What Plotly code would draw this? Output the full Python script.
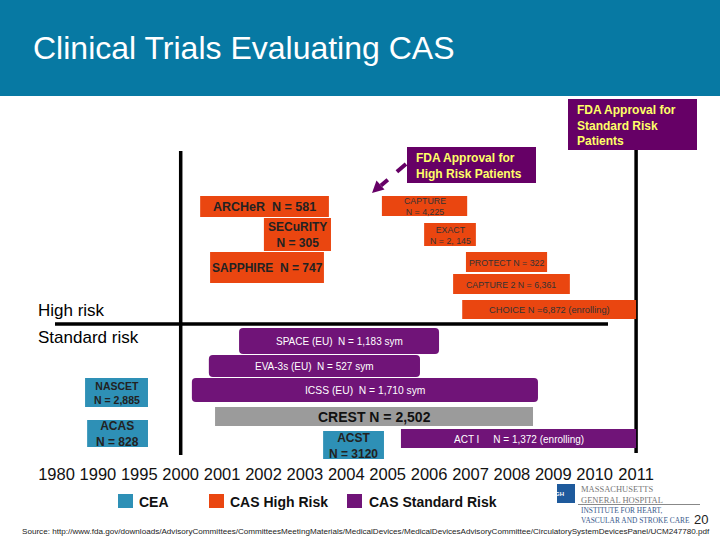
import plotly.graph_objects as go

# ---------------- data ----------------
years = ["1980", "1990", "1995", "2000", "2001", "2002", "2003", "2004",
         "2005", "2006", "2007", "2008", "2009", "2010", "2011"]

trials = ["ARCHeR", "SECuRITY", "SAPPHIRE", "CAPTURE", "EXACT", "PROTECT",
          "CAPTURE 2", "CHOICE", "SPACE (EU)", "EVA-3s (EU)", "ICSS (EU)",
          "CREST", "ACST", "ACT I", "NASCET", "ACAS"]
groups = ["CAS High Risk", "CAS High Risk", "CAS High Risk", "CAS High Risk",
          "CAS High Risk", "CAS High Risk", "CAS High Risk", "CAS High Risk",
          "CAS Standard Risk", "CAS Standard Risk", "CAS Standard Risk",
          "CREST", "CEA", "CAS Standard Risk", "CEA", "CEA"]
n_patients = ["581", "305", "747", "4,225", "2, 145", "322", "6,361", "6,872",
              "1,183", "527", "1,710", "2,502", "3120", "1,372", "2,885", "828"]
# timeline slot positions (0 = 1980 ... 14 = 2011)
start_pos = [3.47, 5.01, 3.71, 7.86, 8.88, 9.89, 9.58, 9.80,
             4.41, 3.68, 3.27, 3.83, 6.44, 8.32, 0.69, 0.74]
end_pos = [6.58, 6.63, 6.46, 9.92, 10.13, 11.85, 12.40, 14.0,
           9.24, 8.78, 11.63, 11.51, 7.91, 14.0, 2.21, 2.21]
labels = ["ARCHeR\u00a0 N = 581", "SECuRITY<br>N = 305", "SAPPHIRE\u00a0 N = 747",
          "CAPTURE<br>N = 4,225", "EXACT<br>N = 2, 145", "PROTECT N = 322",
          "CAPTURE 2 N = 6,361", "CHOICE N =6,872 (enrolling)",
          "SPACE (EU)\u00a0 N = 1,183 sym", "EVA-3s (EU)\u00a0 N = 527 sym",
          "ICSS (EU)\u00a0 N = 1,710 sym", "CREST N = 2,502", "ACST<br>N = 3120",
          "ACT I \u00a0\u00a0\u00a0 N = 1,372 (enrolling)", "NASCET<br>N = 2,885",
          "ACAS<br>N = 828"]

legend_items = ["CEA", "CAS High Risk", "CAS Standard Risk"]
divider_years = [3, 14]  # vertical lines at 2000 and 2011

# ---------------- layout / style ----------------
W, H = 720, 540
X0PX, DX = 56.5, 41.4           # pixel of slot 0 and pixel per slot


def px2x(px):
    return (px - X0PX) / DX


colors = {"CEA": "#2E90B6", "CAS High Risk": "#EA4610",
          "CAS Standard Risk": "#701478", "CREST": "#9B9B9B"}
FDA = "#660066"
ARIAL = "Arial, Liberation Sans, sans-serif"
SERIF = "Liberation Serif, DejaVu Serif, serif"

# row layout: (top px, bottom px, font size, bold, text color, rounded)
rows = [
    (196, 217, 12.5, True, "#222222", False),
    (218, 251, 12, True, "#222222", False),
    (252, 283, 12, True, "#222222", False),
    (196, 216, 8.8, False, "#333333", False),
    (223, 246, 8.8, False, "#333333", False),
    (252, 272, 8.8, False, "#333333", False),
    (274, 294, 8.8, False, "#333333", False),
    (300, 319, 9.3, False, "#333333", False),
    (328, 354, 10, False, "white", True),
    (355, 377, 10, False, "white", True),
    (378, 402, 10.3, False, "white", True),
    (407, 426, 14, True, "#111111", False),
    (431, 459, 12, True, "#222222", False),
    (429, 448, 10, False, "white", False),
    (378, 407, 10.5, True, "#222222", False),
    (420, 447, 12, True, "#222222", False),
]


def rounded_path(x0, x1, y0, y1, r):
    rx = r / DX
    ry = r
    return (f"M {x0+rx},{y0} L {x1-rx},{y0} Q {x1},{y0} {x1},{y0+ry} "
            f"L {x1},{y1-ry} Q {x1},{y1} {x1-rx},{y1} L {x0+rx},{y1} "
            f"Q {x0},{y1} {x0},{y1-ry} L {x0},{y0+ry} Q {x0},{y0} {x0+rx},{y0} Z")


fig = go.Figure()
shapes = []
annotations = []

# header band
shapes.append(dict(type="rect", xref="paper", yref="y", x0=0, x1=1, y0=0, y1=96,
                   fillcolor="#0779A3", line_width=0, layer="below"))
annotations.append(dict(text="Clinical Trials Evaluating CAS", xref="paper", yref="y",
                        x=31 / W, y=48, xanchor="left", yanchor="middle", showarrow=False,
                        font=dict(family=ARIAL, size=32, color="white")))

# divider lines
shapes.append(dict(type="line", xref="x", yref="y", x0=divider_years[0], x1=divider_years[0],
                   y0=151, y1=455, line=dict(color="black", width=3.5)))
shapes.append(dict(type="line", xref="x", yref="y", x0=divider_years[1], x1=divider_years[1],
                   y0=150, y1=453, line=dict(color="black", width=3.5)))
shapes.append(dict(type="line", xref="x", yref="y", x0=px2x(55), x1=px2x(608),
                   y0=324, y1=324, line=dict(color="black", width=3.5)))

annotations.append(dict(text="High risk", xref="x", yref="y", x=px2x(36), y=310,
                        xanchor="left", yanchor="middle", showarrow=False,
                        font=dict(family=ARIAL, size=17, color="black")))
annotations.append(dict(text="Standard risk", xref="x", yref="y", x=px2x(36), y=337,
                        xanchor="left", yanchor="middle", showarrow=False,
                        font=dict(family=ARIAL, size=17, color="black")))

# trial boxes
for i, name in enumerate(trials):
    top, bot, fs, bold, tc, rounded = rows[i]
    c = colors[groups[i]]
    if rounded:
        shapes.append(dict(type="path", xref="x", yref="y",
                           path=rounded_path(start_pos[i], end_pos[i], top, bot, 4),
                           fillcolor=c, line_width=0))
    else:
        shapes.append(dict(type="rect", xref="x", yref="y", x0=start_pos[i], x1=end_pos[i],
                           y0=top, y1=bot, fillcolor=c, line_width=0))
    txt = f"<b>{labels[i]}</b>" if bold else labels[i]
    annotations.append(dict(text=txt, xref="x", yref="y",
                            x=(start_pos[i] + end_pos[i]) / 2, y=(top + bot) / 2 + 0.5,
                            xanchor="center", yanchor="middle", showarrow=False,
                            font=dict(family=ARIAL, size=fs, color=tc)))

# FDA approval boxes
shapes.append(dict(type="rect", xref="x", yref="y", x0=px2x(568), x1=px2x(697),
                   y0=99, y1=150, fillcolor=FDA, line_width=0))
annotations.append(dict(text="<b>FDA Approval for<br>Standard Risk<br>Patients</b>",
                        xref="x", yref="y", x=px2x(575), y=125, xanchor="left",
                        yanchor="middle", align="left", showarrow=False,
                        font=dict(family=ARIAL, size=12, color="#FFFF66")))
shapes.append(dict(type="rect", xref="x", yref="y", x0=px2x(407), x1=px2x(536),
                   y0=147, y1=183, fillcolor=FDA, line_width=0))
annotations.append(dict(text="<b>FDA Approval for<br>High Risk Patients</b>",
                        xref="x", yref="y", x=px2x(414), y=165.5, xanchor="left",
                        yanchor="middle", align="left", showarrow=False,
                        font=dict(family=ARIAL, size=12, color="#FFFF66")))
# dashed arrow
shapes.append(dict(type="line", xref="x", yref="y", x0=px2x(406), y0=164, x1=px2x(381),
                   y1=185.5, line=dict(color=FDA, width=4, dash="dash")))
shapes.append(dict(type="path", xref="x", yref="y",
                   path=(f"M {px2x(372)},{193} L {px2x(384.5)},{189.5} "
                         f"L {px2x(376.5)},{180.5} Z"),
                   fillcolor=FDA, line_width=0))

# legend
leg_px = [(118, 137), (209, 228), (347, 367)]
for name, (sq, tx) in zip(legend_items, leg_px):
    shapes.append(dict(type="rect", xref="paper", yref="y", x0=sq / W, x1=(sq + 15) / W,
                       y0=494, y1=508, fillcolor=colors[name], line_width=0))
    annotations.append(dict(text=f"<b>{name}</b>", xref="paper", yref="y", x=tx / W, y=501.5,
                            xanchor="left", yanchor="middle", showarrow=False,
                            font=dict(family=ARIAL, size=14, color="#111111")))

# logo block
shapes.append(dict(type="rect", xref="paper", yref="y",
                   x0=557 / W, x1=575 / W, y0=484, y1=503, fillcolor="#1E5A9C", line_width=0))
annotations.append(dict(text="<b>MGH</b>", xref="paper", yref="y", x=566 / W, y=494,
                        showarrow=False, font=dict(family=ARIAL, size=6, color="white")))
annotations.append(dict(text="MASSACHUSETTS<br>GENERAL HOSPITAL", xref="paper", yref="y",
                        x=579 / W, y=494, xanchor="left", yanchor="middle", align="left",
                        showarrow=False, font=dict(family=SERIF, size=8.5, color="#777777")))
shapes.append(dict(type="line", xref="paper", yref="y", x0=578 / W, x1=700 / W,
                   y0=504.5, y1=504.5, line=dict(color="#888888", width=1)))
annotations.append(dict(text="INSTITUTE FOR HEART,<br>VASCULAR AND STROKE CARE",
                        xref="paper", yref="y", x=579 / W, y=515, xanchor="left",
                        yanchor="middle", align="left", showarrow=False,
                        font=dict(family=SERIF, size=7.4, color="#3A5A8C")))
annotations.append(dict(text="20", xref="paper", yref="y", x=710 / W, y=519,
                        xanchor="right", yanchor="middle", showarrow=False,
                        font=dict(family=ARIAL, size=13, color="#222222")))
annotations.append(dict(
    text=("Source: http://www.fda.gov/downloads/AdvisoryCommittees/CommitteesMeetingMaterials/"
          "MedicalDevices/MedicalDevicesAdvisoryCommittee/CirculatorySystemDevicesPanel/UCM247780.pdf"),
    xref="paper", yref="y", x=20 / W, y=531, xanchor="left", yanchor="middle",
    showarrow=False, font=dict(family=ARIAL, size=8.1, color="#222222")))

fig.update_layout(
    width=W, height=H, margin=dict(l=0, r=0, t=0, b=0),
    paper_bgcolor="white", plot_bgcolor="white",
    showlegend=False, shapes=shapes, annotations=annotations,
    xaxis=dict(range=[px2x(0), px2x(W)], domain=[0, 1], anchor="free",
               position=(H - 462) / H, tickmode="array",
               tickvals=list(range(len(years))), ticktext=years,
               showgrid=False, zeroline=False, showline=False, ticks="",
               tickfont=dict(family=ARIAL, size=16.5, color="#111111"), fixedrange=True),
    yaxis=dict(range=[H, 0], domain=[0, 1], visible=False, showgrid=False,
               zeroline=False, fixedrange=True),
)
fig.write_html("out.html", config={"displayModeBar": False},
               post_script="document.body.style.margin='0';document.body.style.overflow='hidden';")
